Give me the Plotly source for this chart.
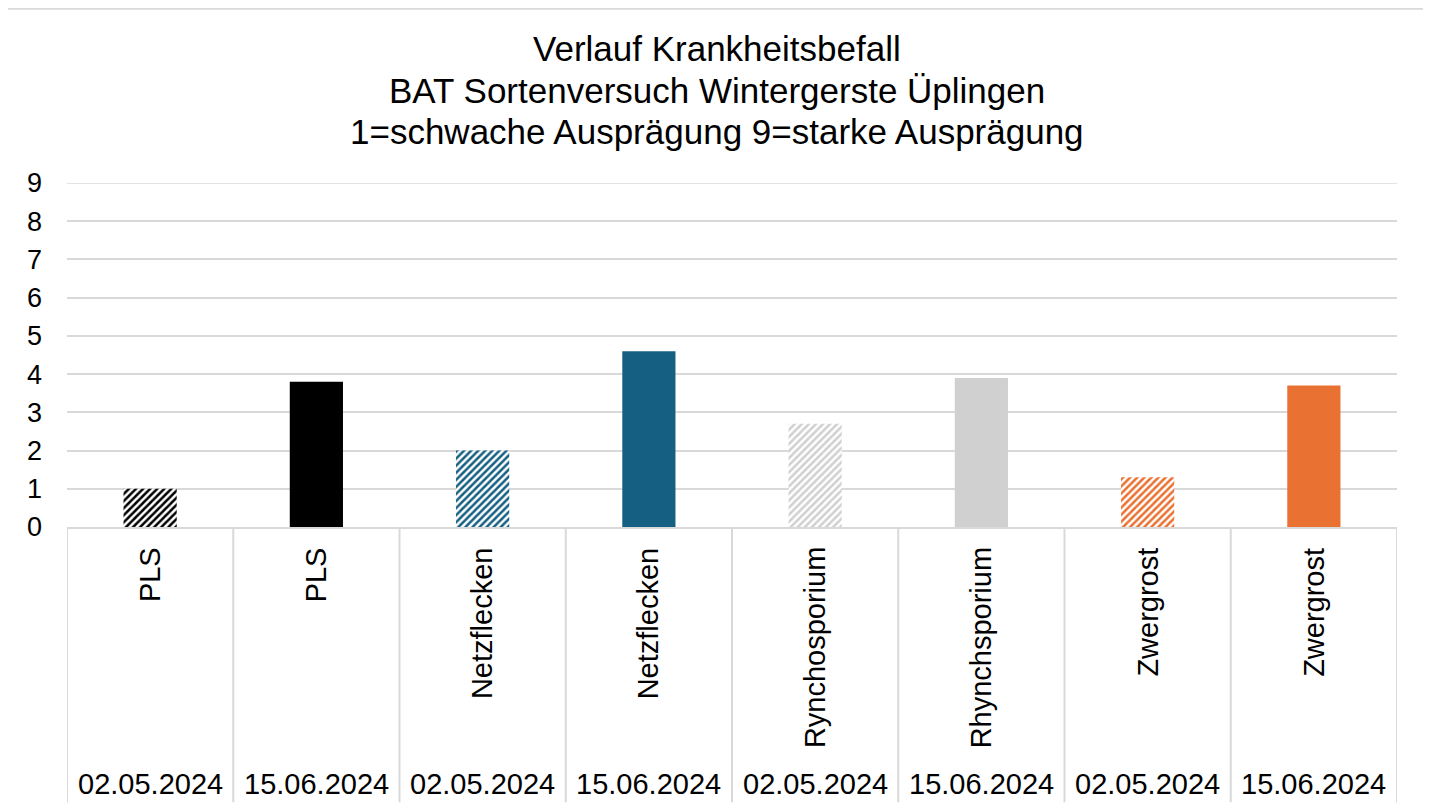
import plotly.graph_objects as go

categories = ["PLS", "PLS", "Netzflecken", "Netzflecken", "Rynchosporium",
              "Rhynchsporium", "Zwergrost", "Zwergrost"]
dates = ["02.05.2024", "15.06.2024", "02.05.2024", "15.06.2024",
         "02.05.2024", "15.06.2024", "02.05.2024", "15.06.2024"]
values = [1.0, 3.8, 2.0, 4.6, 2.7, 3.9, 1.3, 3.7]
y_ticks = [0, 1, 2, 3, 4, 5, 6, 7, 8, 9]
title_lines = ["Verlauf Krankheitsbefall",
               "BAT Sortenversuch Wintergerste Üplingen",
               "1=schwache Ausprägung 9=starke Ausprägung"]

colors = ["#000000", "#000000", "#156082", "#156082",
          "#D0D0D0", "#D0D0D0", "#E97132", "#E97132"]

FONT = "Liberation Sans, Arial, sans-serif"

# page body adds an 8px offset; compensate so the picture lines up
OFF = 8
W, H = 1431 - OFF, 807 - OFF

def X(p):
    return p - OFF

PL, PR, PT, PB = X(67), X(1397), X(183.3), X(527.5)
PH = PB - PT
PW = PR - PL

def py(p):
    return (PB - X(p)) / PH

def px(p):
    return (X(p) - PL) / PW

fig = go.Figure()
for i, (v, d, c) in enumerate(zip(values, dates, colors)):
    if d == "02.05.2024":
        marker = dict(color="#FFFFFF", line=dict(width=0),
                      pattern=dict(shape="/", fgcolor=c, bgcolor="#FFFFFF",
                                   fgopacity=1, size=5, solidity=0.5,
                                   fillmode="replace"))
    else:
        marker = dict(color=c, line=dict(width=0))
    fig.add_trace(go.Bar(x=[i], y=[v], width=0.32, marker=marker,
                         hoverinfo="skip", name=f"{categories[i]} {d}"))

annotations = []
for i, line in enumerate(title_lines):
    annotations.append(dict(
        text=line, xref="paper", yref="paper", x=px(717), y=py([49, 91, 132][i]),
        xanchor="center", yanchor="middle", showarrow=False,
        font=dict(family=FONT, size=35, color="#000000")))

for i, (c, d) in enumerate(zip(categories, dates)):
    annotations.append(dict(
        text=c, x=i, xref="x", yref="paper", y=py(546), textangle=-90,
        xanchor="center", yanchor="top", showarrow=False,
        font=dict(family=FONT, size=29, color="#000000")))
    annotations.append(dict(
        text=d, x=i, xref="x", yref="paper", y=py(785),
        xanchor="center", yanchor="middle", showarrow=False,
        font=dict(family=FONT, size=29, color="#000000")))

shapes = []
# top gridline (plotly omits the grid line at the very edge of the range)
shapes.append(dict(type="line", xref="paper", yref="y", x0=0, x1=1,
                   y0=y_ticks[-1], y1=y_ticks[-1],
                   line=dict(color="#D9D9D9", width=1.5), layer="below"))
for i in range(len(categories) + 1):
    shapes.append(dict(type="line", xref="x", yref="paper",
                       x0=i - 0.5, x1=i - 0.5, y0=0, y1=py(803),
                       line=dict(color="#D9D9D9", width=2)))
# outer chart border
shapes.append(dict(type="rect", xref="paper", yref="paper",
                   x0=px(7), x1=px(1427), y0=py(9), y1=py(840),
                   line=dict(color="#D9D9D9", width=2), fillcolor="rgba(0,0,0,0)",
                   layer="below"))

fig.update_layout(
    width=W, height=H,
    margin=dict(l=PL, r=W - PR, t=PT, b=H - PB),
    paper_bgcolor="#FFFFFF", plot_bgcolor="#FFFFFF",
    showlegend=False, barmode="overlay",
    font=dict(family=FONT, color="#000000"),
    annotations=annotations,
    shapes=shapes,
    xaxis=dict(range=[-0.5, len(categories) - 0.5], showticklabels=False,
               showgrid=False, zeroline=False, showline=True,
               linecolor="#D9D9D9", linewidth=2, ticks=""),
    yaxis=dict(range=[0, 9], tickvals=y_ticks, showgrid=True,
               gridcolor="#D9D9D9", gridwidth=1.5, zeroline=False,
               showline=False, ticks="", ticklabelstandoff=24,
               tickfont=dict(family=FONT, size=27, color="#000000")),
)

fig.write_html("out.html")
